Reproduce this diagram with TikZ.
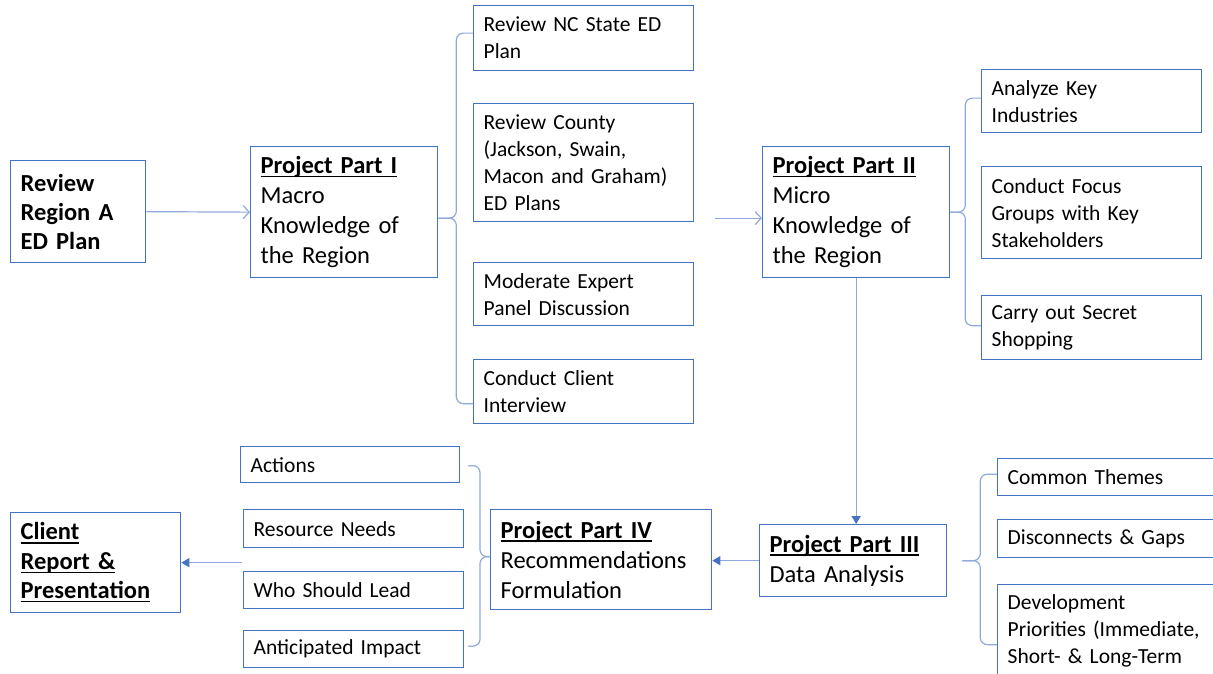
\documentclass[tikz,border=0pt]{standalone}
\usepackage{fontspec}
\setmainfont{Carlito}
\usetikzlibrary{arrows.meta,calc}

\definecolor{boxblue}{HTML}{4472C4}
\definecolor{lineblue}{HTML}{8FAADC}

\newcommand{\parttitle}[1]{\leavevmode\setbox0\hbox{\bfseries #1}\rlap{\rule[-3.5pt]{\wd0}{1.4pt}}\box0}

\tikzset{
  box/.style={draw=boxblue, line width=1.3pt, fill=white, anchor=north west, align=left, inner xsep=10pt, inner ysep=0pt},
  part/.style={box, text width=167pt, font=\fontsize{24.5}{30}\selectfont},
  sub/.style={box, text width=200pt, font=\fontsize{21.5}{27}\selectfont},
  link/.style={draw=lineblue, line width=1.2pt},
  brace/.style={link, rounded corners=7pt},
  openarrow/.style={link, -{Straight Barb[length=6pt,width=13pt]}},
  headarrow/.style={link, -{Triangle[length=8pt,width=9pt,fill=boxblue,color=boxblue]}}
}

\begin{document}
\begin{tikzpicture}[x=1pt,y=-1pt]
\fill[white] (0,0) rectangle (1213,674);
\clip (0,0) rectangle (1213,674);

\node[box, text width=115pt, minimum height=102pt, font=\fontsize{24.5}{29}\selectfont\bfseries] (rev) at (10,160) {Review\\Region A\\ED Plan};
\node[part, minimum height=131pt] (p1) at (250,146) {\parttitle{Project Part I}\\Macro\\Knowledge of\\the Region};
\node[part, minimum height=131pt] (p2) at (762,146) {\parttitle{Project Part II}\\Micro\\Knowledge of\\the Region};
\node[part, minimum height=72pt] (p3) at (759,524) {\parttitle{Project Part III}\\Data Analysis};
\node[part, text width=201pt, minimum height=100pt] (p4) at (490,509) {\parttitle{Project Part IV}\\Recommendations\\Formulation};
\node[box, text width=150pt, minimum height=100pt, font=\fontsize{24.5}{29.5}\selectfont] (client) at (10,512) {\parttitle{Client}\\\parttitle{Report \&}\\\parttitle{Presentation}};

% part I tasks
\node[sub, minimum height=65pt] (rnc) at (473,5) {Review NC State ED\\Plan};
\node[sub, minimum height=118pt] (rcp) at (473,103) {Review County\\(Jackson, Swain,\\Macon and Graham)\\ED Plans};
\node[sub, minimum height=63pt] (mep) at (473,262) {Moderate Expert\\Panel Discussion};
\node[sub, minimum height=64pt] (cci) at (473,359) {Conduct Client\\Interview};

% part II tasks
\node[sub, minimum height=63pt] (aki) at (981,69) {Analyze Key\\Industries};
\node[sub, minimum height=92pt] (cfg) at (981,166) {Conduct Focus\\Groups with Key\\Stakeholders};
\node[sub, minimum height=64pt] (cos) at (981,295) {Carry out Secret\\Shopping};

% part III outputs
\node[sub, text width=220pt, minimum height=37pt] (cth) at (997,458) {Common Themes};
\node[sub, text width=220pt, minimum height=38pt] (dgp) at (997,519) {Disconnects \& Gaps};
\node[sub, text width=220pt, minimum height=92pt] (dpr) at (997,584) {Development\\Priorities (Immediate,\\Short- \& Long-Term};

% part IV outputs
\node[sub, text width=199pt, minimum height=36pt] (act) at (240,446) {Actions};
\node[sub, minimum height=38pt] (rne) at (243,509) {Resource Needs};
\node[sub, minimum height=37pt] (wsl) at (243,571) {Who Should Lead};
\node[sub, minimum height=37pt] (aim) at (243,630) {Anticipated Impact};

% braces
\coordinate (b1) at ($(p1.east)+(18,6)$);
\draw[brace] ($(rnc.west)+(0,-5)$) -| (b1) -- (b1 -| p1.east);
\draw[brace] (b1 -| p1.east) -- (b1) |- ($(cci.west)+(0,12)$);

\coordinate (b2) at ($(p2.east)+(15,0)$);
\draw[brace] ($(aki.west)+(0,-3)$) -| (b2) -- (p2.east);
\draw[brace] (p2.east) -- (b2) |- ($(cos.west)+(0,-2)$);

\coordinate (t3) at ($(p3.east)+(15,0)$);
\coordinate (b3) at ($(p3.east)+(33,0)$);
\draw[brace] ($(cth.west)+(0,-3)$) -| (b3) -- (t3);
\draw[brace] (t3) -- (b3) |- ($(dpr.west)+(0,14)$);

\coordinate (b4) at ($(p4.west)+(-10,-3)$);
\draw[brace] ($(act.east)+(8,1)$) -| (b4) -- (b4 -| p4.west);
\draw[brace] (b4 -| p4.west) -- (b4) |- ($(aim.east)+(4,-3)$);

% flow
\draw[openarrow] (rev.east) -- (p1.west);
\coordinate (a2) at ($(p2.west)+(-47,6)$);
\draw[openarrow] (a2) -- (a2 -| p2.west);
\draw[headarrow] (p2.south) -- (p2.south |- p3.north);
\draw[headarrow] (p3.west) -- (p3.west -| p4.east);
\coordinate (a5) at ($(client.east)+(61,0)$);
\draw[headarrow] (a5) -- (client.east);

\end{tikzpicture}
\end{document}
